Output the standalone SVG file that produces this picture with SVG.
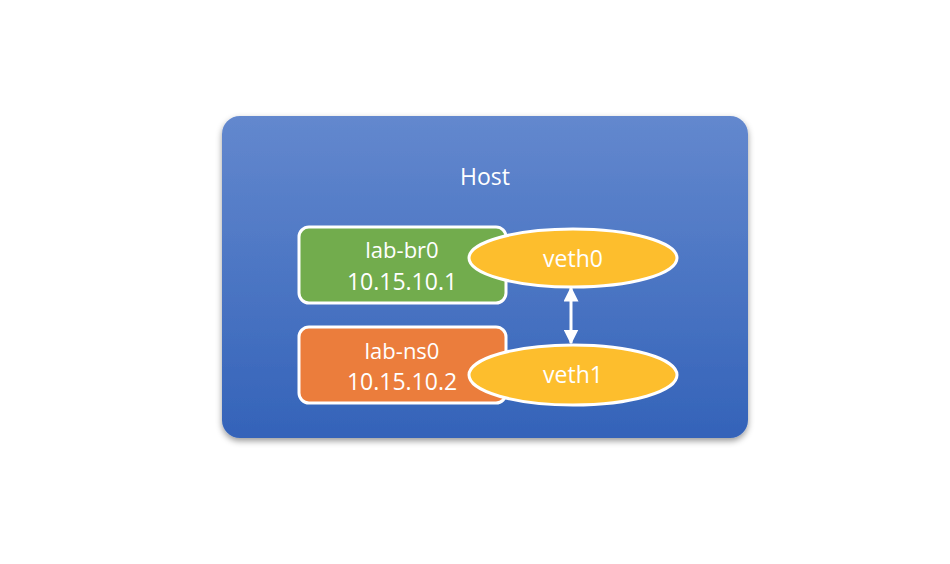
<svg xmlns="http://www.w3.org/2000/svg" width="950" height="564" viewBox="0 0 950 564">
<defs>
<linearGradient id="hostGrad" x1="0" y1="0" x2="0" y2="1">
<stop offset="0" stop-color="#6388CE"/>
<stop offset="1" stop-color="#3463B9"/>
</linearGradient>
<filter id="shadow" x="-10%" y="-10%" width="120%" height="130%">
<feDropShadow dx="0" dy="3" stdDeviation="3" flood-color="#000" flood-opacity="0.4"/>
</filter>
<marker id="ah" viewBox="0 0 10 10" refX="9" refY="5" markerWidth="5" markerHeight="5" orient="auto-start-reverse" markerUnits="strokeWidth">
<path d="M0,0 L10,5 L0,10 Z" fill="#fff"/>
</marker>
<style>
text{font-family:"Open Sans","Noto Sans","Liberation Sans",sans-serif;fill:#fff;text-anchor:middle}
.box{stroke:#fff;stroke-width:3}
.port{fill:#FDBE2D;stroke:#fff;stroke-width:3}
</style>
</defs>
<rect width="950" height="564" fill="#fff"/>
<g id="host">
<rect x="222" y="116" width="526" height="322" rx="18" fill="url(#hostGrad)" filter="url(#shadow)"/>
<text x="485" y="185" font-size="23">Host</text>
</g>
<g id="lab-br0">
<rect class="box" x="299" y="227" width="207" height="76" rx="10" fill="#72AC4D"/>
<text x="402" y="258" font-size="22">lab-br0</text>
<text x="402" y="290" font-size="23">10.15.10.1</text>
</g>
<g id="lab-ns0">
<rect class="box" x="299" y="327" width="207" height="76" rx="10" fill="#EB7D3C"/>
<text x="402" y="359" font-size="22">lab-ns0</text>
<text x="402" y="390" font-size="23">10.15.10.2</text>
</g>
<g id="veth0">
<ellipse class="port" cx="573" cy="258" rx="104" ry="29"/>
<text x="573" y="267" font-size="23">veth0</text>
</g>
<g id="veth1">
<ellipse class="port" cx="573" cy="375" rx="104" ry="30"/>
<text x="573" y="383" font-size="23">veth1</text>
</g>
<g id="connectors">
<line x1="571" y1="288" x2="571" y2="343" stroke="#fff" stroke-width="3" marker-start="url(#ah)" marker-end="url(#ah)"/>
</g>
</svg>
